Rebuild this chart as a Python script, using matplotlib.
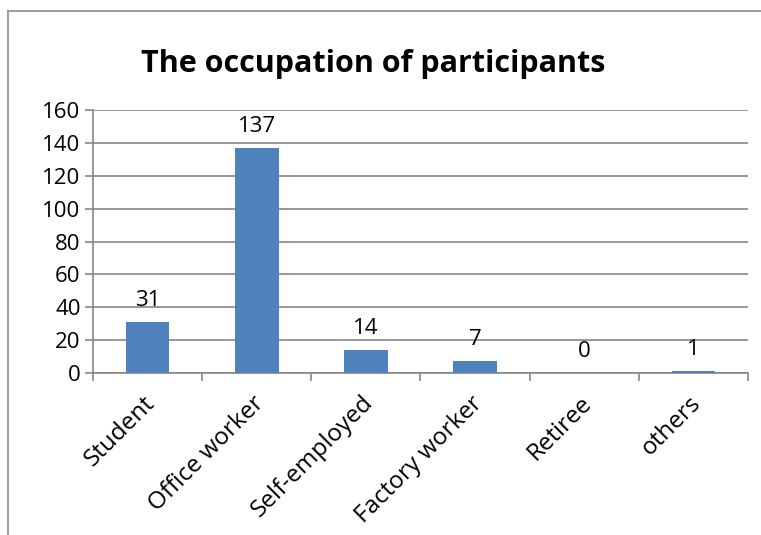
import numpy as np
import matplotlib.pyplot as plt
from matplotlib.lines import Line2D

# data
categories = ["Student", "Office worker", "Self-employed", "Factory worker", "Retiree", "others"]
counts = [31, 137, 14, 7, 0, 1]

plt.rcParams['font.family'] = ['Open Sans', 'DejaVu Sans']

W, H = 761, 535
fig = plt.figure(figsize=(W / 100, H / 100), dpi=100)

# chart frame (light gray, left and top edges visible)
fig.add_artist(Line2D([8 / W, 8 / W], [0, 1 - 11 / H], color="#8c8c8c", lw=1.2))
fig.add_artist(Line2D([8 / W, 1], [1 - 11 / H, 1 - 11 / H], color="#8c8c8c", lw=1.2))

ax = fig.add_axes([93 / W, 1 - 373 / H, 655 / W, 263 / H])

x = np.arange(len(categories))
ax.bar(x, counts, width=0.4, color="#4F81BD", zorder=3)

# value labels
for xi, v in zip(x, counts):
    ax.annotate(str(v), (xi, v), xytext=(0, 8), textcoords="offset points",
                ha="center", va="bottom", fontsize=16)

ax.set_xlim(-0.5, len(categories) - 0.5)
ax.set_ylim(0, 160)
ax.set_yticks(range(0, 161, 20))
ax.yaxis.grid(True, color="#868686", lw=1.2, zorder=0)
ax.set_axisbelow(True)

ax.set_xticks(x - 0.04)
ax.set_xticklabels(categories, rotation=45, ha="right", va="top",
                   rotation_mode="anchor", fontsize=17.5)
ax.set_xticks(np.arange(-0.5, len(categories)), minor=True)
ax.tick_params(axis="x", which="major", length=0, pad=13)
ax.tick_params(axis="x", which="minor", length=6, color="#868686", width=1.2)
ax.tick_params(axis="y", length=6, color="#868686", width=1.2, labelsize=16, pad=3)

for s in ["top", "right"]:
    ax.spines[s].set_visible(False)
for s in ["left", "bottom"]:
    ax.spines[s].set_color("#868686")
    ax.spines[s].set_linewidth(1.2)

fig.text(373 / W, 1 - 64 / H, "The occupation of participants", ha="center", va="center",
         fontsize=22, fontweight="bold")

plt.savefig("out.png", dpi=100)
